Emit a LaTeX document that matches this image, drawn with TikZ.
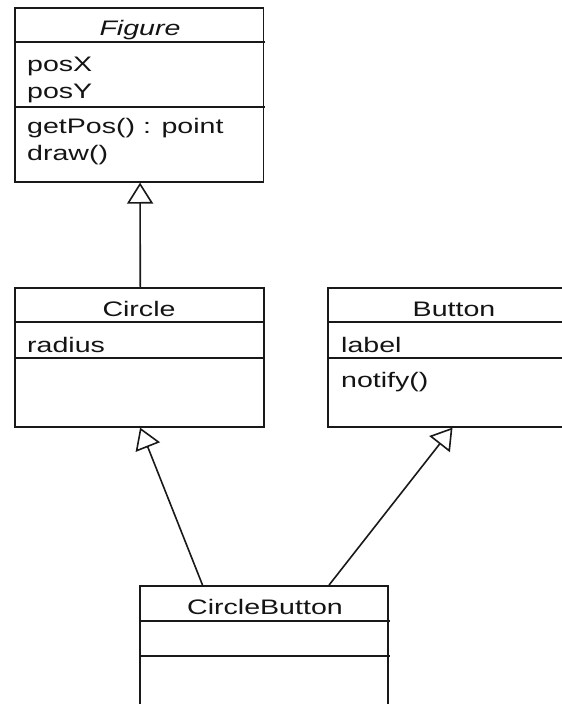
\documentclass[tikz,border=0pt]{standalone}
\usepackage{fontspec}
\setmainfont[FakeStretch=1.36]{Liberation Sans}
\usetikzlibrary{arrows.meta}
\begin{document}
\begin{tikzpicture}[x=1pt, y=-1pt,
  ink/.style={draw=black!90, line width=1.6pt},
  classbox/.style={ink, rectangle, inner sep=0pt, anchor=north west},
  divider/.style={ink},
  title/.style={inner sep=0pt, anchor=base, text=black!92, font=\fontsize{21}{25}\selectfont},
  member/.style={inner sep=0pt, anchor=base west, text=black!92, font=\fontsize{21}{25}\selectfont},
  inherit/.style={ink, -{Triangle[open, length=21pt, width=26pt]}}]
\useasboundingbox (0,0) rectangle (562,704);
\clip (0,0) rectangle (562,704);

% class boxes
\node[classbox, minimum width=248.5pt, minimum height=174pt] (fig) at (14,7) {};
\node[classbox, minimum width=249pt, minimum height=139pt] (circ) at (14,287) {};
\node[classbox, minimum width=254pt, minimum height=139pt] (btn) at (327,287) {};
\node[classbox, minimum width=248pt, minimum height=140pt] (cb) at (139,585) {};

% compartment separators
\draw[divider] (14,42) -- (265,42);
\draw[divider] (14,107) -- (265,107);
\draw[divider] (14,322) -- (265,322);
\draw[divider] (14,358) -- (265,358);
\draw[divider] (327,322) -- (590,322);
\draw[divider] (327,358) -- (590,358);
\draw[divider] (139,621) -- (390,621);
\draw[divider] (139,656) -- (390,656);

% Figure
\node[title] (figname) at (140,35) {\itshape Figure};
\node[member] (posx) at (27,71.5) {posX};
\node[member] (posy) at (27,98.3) {posY};
\node[member] (getpos) at (27,133.5) {getPos() : point};
\node[member] (drawop) at (27,160.5) {draw()};

% Circle
\node[title] (circname) at (139,316) {Circle};
\node[member] (radius) at (27,352) {radius};

% Button
\node[title] (btnname) at (454,316) {Button};
\node[member] (lbl) at (341,352) {label};
\node[member] (notify) at (341,387) {notify()};

% CircleButton
\node[title] (cbname) at (265,614) {CircleButton};

% generalisations
\draw[inherit] ([xshift=1pt]circ.north) -- ([xshift=1pt]fig.south);
\draw[inherit] ([xshift=-61.3pt]cb.north) -- ([xshift=0.8pt]circ.south);
\draw[inherit] ([xshift=65.3pt]cb.north) -- ([xshift=-2.3pt]btn.south);
\end{tikzpicture}
\end{document}
